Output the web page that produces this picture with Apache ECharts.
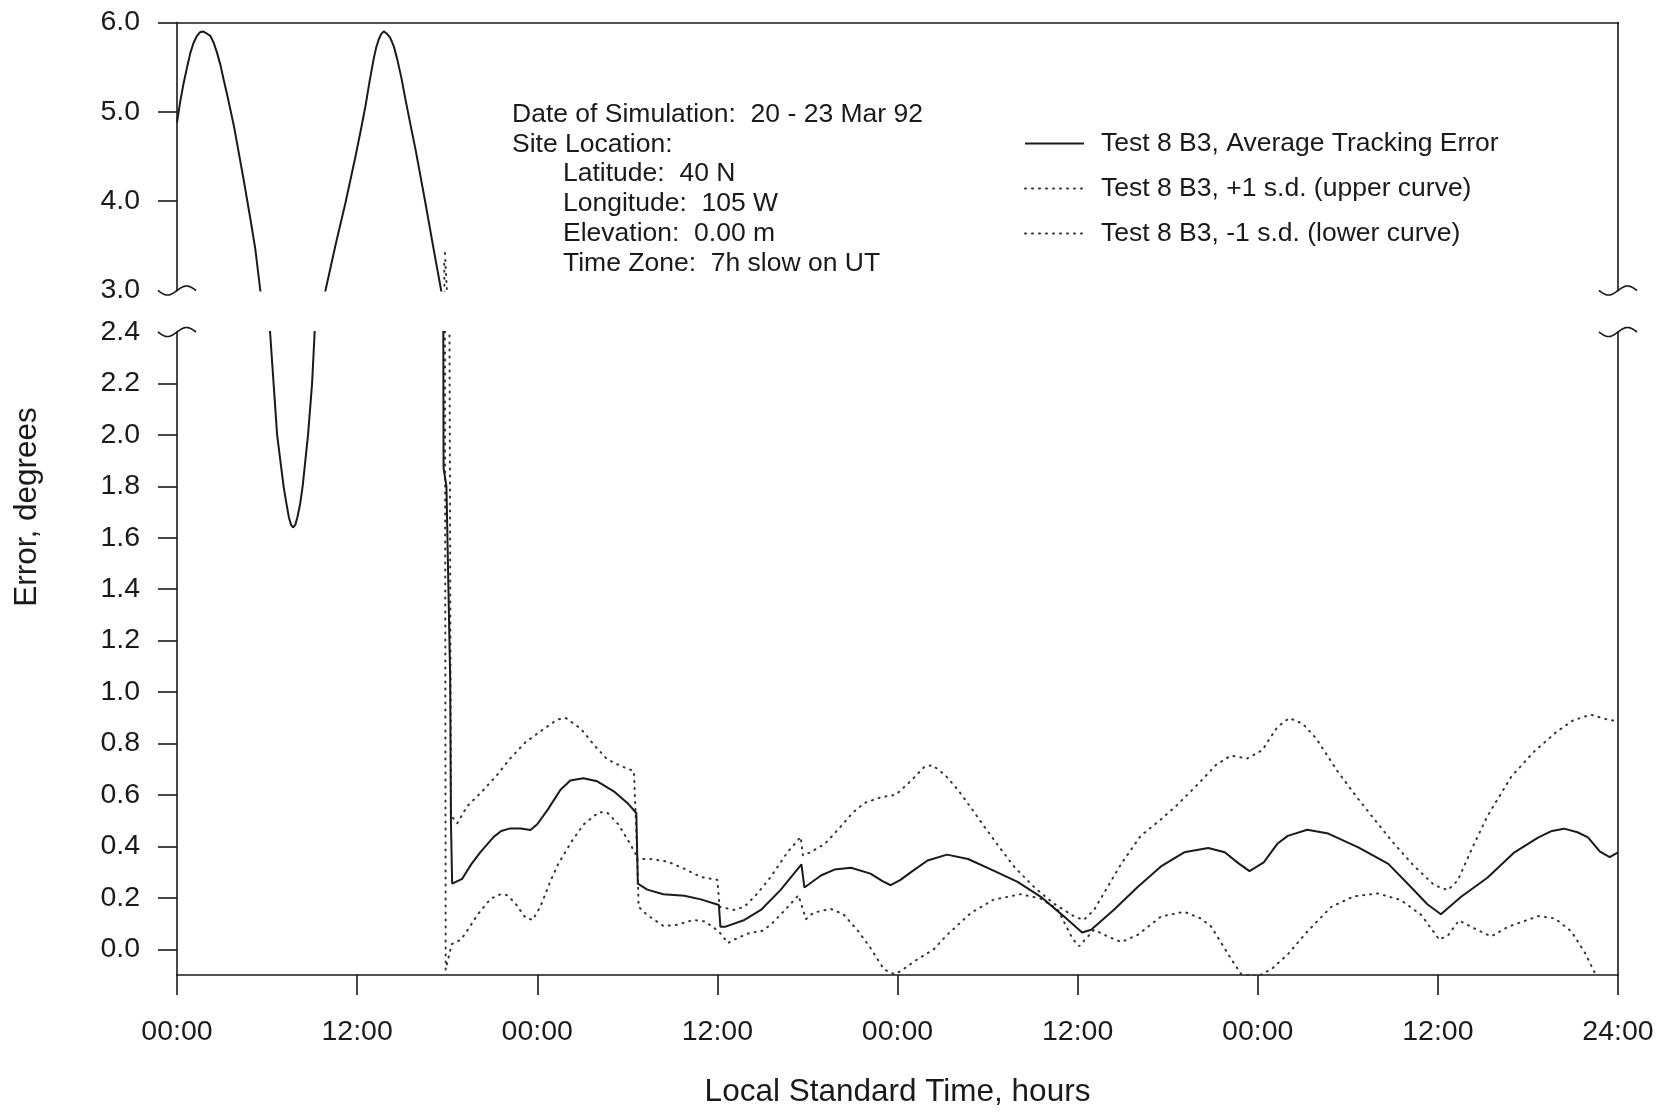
<!DOCTYPE html>
<html><head><meta charset="utf-8">
<script src="https://cdn.jsdelivr.net/npm/echarts@6.0.0/dist/echarts.min.js"></script>
<style>html,body{margin:0;padding:0;background:#fff;}#c{width:1679px;height:1113px;}</style>
</head><body><div id="c"></div>
<script>
// ---------------- data ----------------
const seriesNames = [
  'Test 8 B3, Average Tracking Error',
  'Test 8 B3, +1 s.d. (upper curve)',
  'Test 8 B3, -1 s.d. (lower curve)'
];
const xTickLabels = ['00:00','12:00','00:00','12:00','00:00','12:00','00:00','12:00','24:00'];
const upperYLabels = [3.0, 4.0, 5.0, 6.0];
const lowerYLabels = [0.0, 0.2, 0.4, 0.6, 0.8, 1.0, 1.2, 1.4, 1.6, 1.8, 2.0, 2.2, 2.4];
const infoLines = [
  'Date of Simulation:  20 - 23 Mar 92',
  'Site Location:',
  'Latitude:  40 N',
  'Longitude:  105 W',
  'Elevation:  0.00 m',
  'Time Zone:  7h slow on UT'
];
// [hour, error in degrees]
const meanData = [
  [0,4.88],[0.22,5.12],[0.44,5.32],[0.67,5.50],[0.89,5.66],[1.1,5.77],[1.33,5.85],[1.53,5.89],[1.73,5.90],
  [1.95,5.88],[2.22,5.85],[2.45,5.77],[2.67,5.66],[2.9,5.52],[3.11,5.36],[3.33,5.2],[3.55,5.03],[3.78,4.85],
  [4.0,4.65],[4.44,4.24],[4.89,3.80],[5.22,3.46],[5.55,3.0],[6.2,2.4],[6.67,2.0],
  [7.1,1.8],[7.3,1.73],[7.45,1.68],[7.6,1.65],[7.73,1.64],[7.88,1.65],[8.02,1.68],[8.2,1.73],[8.37,1.8],
  [8.73,2.0],[9.0,2.2],[9.17,2.4],
  [9.89,3.0],[10.55,3.5],[11.22,3.98],[11.89,4.5],[12.25,4.8],[12.55,5.06],[12.85,5.36],[13.1,5.59],
  [13.27,5.72],[13.44,5.81],[13.6,5.87],[13.77,5.90],[13.95,5.88],[14.2,5.83],[14.45,5.73],[14.67,5.59],
  [14.95,5.38],[15.22,5.14],[15.55,4.86],[15.89,4.58],[16.55,3.98],[17.1,3.46],[17.6,3.0],[17.74,2.45],
  [17.76,1.87],[17.95,1.8],[18.2,1.05],[18.25,0.5],[18.33,0.255],[19.0,0.274],[19.6,0.33],[20.2,0.377],
  [21.1,0.437],[21.6,0.46],[22.2,0.47],[22.9,0.47],[23.55,0.464],[24.0,0.486],[24.7,0.543],[25.55,0.62],
  [26.2,0.656],[27.07,0.665],[28.0,0.653],[29.1,0.614],[30.0,0.569],[30.6,0.53],[30.7,0.255],[31.33,0.232],
  [32.4,0.214],[33.8,0.208],[34.9,0.194],[36.1,0.172],[36.2,0.088],[36.55,0.088],[37.8,0.114],[38.9,0.153],
  [40.2,0.23],[41.6,0.33],[41.8,0.24],[42.9,0.287],[43.8,0.31],[44.9,0.317],[46.2,0.294],[47.0,0.265],
  [47.55,0.249],[48.2,0.27],[48.9,0.30],[50.0,0.345],[51.3,0.368],[52.7,0.351],[54.4,0.306],[56.0,0.262],
  [57.55,0.204],[59.1,0.127],[60.3,0.065],[60.9,0.076],[62.4,0.153],[64.0,0.242],[65.55,0.322],[67.1,0.377],
  [68.7,0.394],[69.8,0.377],[70.7,0.335],[71.45,0.304],[72.4,0.338],[73.3,0.41],[74.0,0.441],[75.3,0.465],
  [76.7,0.45],[78.7,0.396],[80.7,0.332],[82.2,0.242],[83.3,0.175],[84.2,0.136],[85.55,0.204],[87.3,0.278],
  [89.1,0.377],[90.7,0.435],[91.6,0.46],[92.4,0.469],[93.3,0.455],[94.0,0.435],[94.8,0.38],[95.45,0.358],[96.0,0.377]
];
const plusSdData = [
  [17.85,3.42],[18.15,2.45],[18.2,1.5],[18.25,0.52],[18.67,0.49],[19.33,0.556],[20.33,0.614],[21.33,0.678],
  [22.2,0.742],[23.2,0.804],[24.2,0.847],[25.33,0.893],[25.9,0.899],[26.9,0.858],[27.8,0.793],[28.67,0.738],
  [29.67,0.71],[30.44,0.693],[30.67,0.351],[31.55,0.351],[32.67,0.341],[33.8,0.313],[34.9,0.281],[36.0,0.27],
  [36.15,0.165],[37.1,0.153],[37.8,0.165],[38.67,0.217],[39.55,0.281],[40.67,0.377],[41.55,0.437],[41.7,0.365],
  [42.2,0.377],[43.2,0.412],[44.2,0.476],[45.0,0.53],[45.8,0.569],[46.9,0.591],[47.9,0.601],[48.9,0.655],
  [49.8,0.71],[50.33,0.716],[51.2,0.676],[52.1,0.614],[52.9,0.55],[53.67,0.486],[54.8,0.396],[55.8,0.319],
  [57.1,0.242],[58.4,0.178],[59.8,0.127],[60.4,0.114],[61.1,0.153],[61.8,0.223],[62.9,0.332],[64.2,0.441],
  [65.55,0.505],[66.67,0.563],[68.2,0.653],[69.2,0.716],[70.2,0.753],[71.3,0.742],[72.3,0.774],[73.3,0.864],
  [74.1,0.899],[75.0,0.877],[75.9,0.819],[77.33,0.691],[78.55,0.595],[79.77,0.505],[81.1,0.409],[82.44,0.322],
  [83.77,0.249],[84.67,0.23],[85.33,0.268],[86.2,0.383],[87.3,0.518],[88.9,0.672],[90.4,0.768],[91.9,0.845],
  [93.0,0.89],[94.2,0.912],[95.1,0.896],[96.0,0.886]
];
const minusSdData = [
  [17.8,3.3],[17.85,2.45],[17.9,-0.08],[18.3,0.02],[18.9,0.037],[19.3,0.069],[20.0,0.133],[20.9,0.197],
  [21.55,0.214],[22.0,0.21],[22.55,0.178],[23.2,0.124],[23.7,0.114],[24.2,0.165],[24.9,0.268],[25.4,0.332],
  [26.3,0.42],[27.1,0.486],[28.1,0.533],[28.67,0.531],[29.4,0.486],[30.2,0.409],[30.67,0.358],[30.75,0.165],
  [31.33,0.133],[32.4,0.091],[33.3,0.095],[34.4,0.114],[35.2,0.108],[36.1,0.069],[36.7,0.024],[37.3,0.043],
  [38.2,0.065],[38.9,0.069],[39.55,0.095],[40.4,0.146],[41.4,0.21],[41.9,0.117],[42.4,0.142],[43.55,0.157],
  [44.4,0.136],[45.4,0.069],[46.2,0.005],[47.1,-0.078],[47.8,-0.097],[48.2,-0.085],[49.3,-0.04],[50.4,-0.001],
  [51.3,0.056],[52.9,0.142],[54.4,0.193],[56.2,0.214],[57.55,0.197],[58.67,0.155],[59.67,0.04],[60.1,0.012],
  [61.1,0.076],[62.0,0.05],[62.9,0.028],[64.0,0.056],[65.55,0.127],[67.1,0.146],[68.2,0.12],[68.9,0.088],
  [70.2,-0.035],[70.9,-0.097],[72.0,-0.105],[72.9,-0.078],[74.0,-0.02],[75.3,0.069],[76.9,0.165],[78.4,0.206],
  [80.0,0.217],[81.55,0.191],[82.9,0.133],[84.1,0.037],[84.7,0.056],[85.4,0.112],[86.4,0.082],[87.55,0.05],
  [88.7,0.088],[90.7,0.129],[91.8,0.12],[92.9,0.069],[93.8,-0.014],[94.5,-0.097],[95.2,-0.2],[96.0,-0.25]
];

// ---------------- chart ----------------
const FONT = "'Liberation Sans', Arial, sans-serif";
const INK = '#1a1a1a';
const chart = echarts.init(document.getElementById('c'), null, {renderer: 'canvas'});

const solidStyle = {color: INK, width: 2, type: 'solid'};
const dotStyle = {color: '#333', width: 2, type: [1, 6], cap: 'round'};
const datasets = [meanData, plusSdData, minusSdData];
const styles = [solidStyle, dotStyle, dotStyle];

const series = [];
[0, 1].forEach(function (g) {
  datasets.forEach(function (d, i) {
    series.push({
      name: seriesNames[i], type: 'line', data: d,
      xAxisIndex: g, yAxisIndex: g === 0 ? 0 : 2,
      showSymbol: false, symbol: 'none', clip: true,
      lineStyle: styles[i], itemStyle: {color: styles[i].color},
      z: i === 0 ? 3 : 2, silent: true
    });
  });
});

const axisLineStyle = {color: INK, width: 1.6};
const labelStyle = {color: INK, fontSize: 28.5, fontFamily: FONT};

function plainAxis(extra) {
  return Object.assign({
    type: 'value', splitLine: {show: false},
    axisLine: {show: true, onZero: false, lineStyle: axisLineStyle},
    axisTick: {show: false}, axisLabel: {show: false}
  }, extra);
}

const option = {
  animation: false,
  backgroundColor: '#fff',
  grid: [
    {left: 177, right: 61, top: 22.5, height: 268},
    {left: 177, right: 61, top: 332, height: 649}
  ],
  xAxis: [
    plainAxis({gridIndex: 0, min: 0, max: 96, interval: 12, position: 'top'}),
    {
      type: 'value', gridIndex: 1, min: 0, max: 96, interval: 12, position: 'bottom',
      splitLine: {show: false},
      axisLine: {show: true, onZero: false, lineStyle: axisLineStyle},
      axisTick: {show: true, inside: false, length: 20, lineStyle: axisLineStyle},
      axisLabel: {
        show: true, margin: 43, color: INK, fontSize: 28.5, fontFamily: FONT,
        formatter: function (v) { return xTickLabels[Math.round(v / 12)]; }
      },
      name: 'Local Standard Time, hours', nameLocation: 'middle', nameGap: 101,
      nameTextStyle: {color: INK, fontSize: 31.5, fontFamily: FONT}
    }
  ],
  yAxis: [
    {
      type: 'value', gridIndex: 0, min: 3, max: 6, position: 'left',
      splitLine: {show: false},
      axisLine: {show: true, onZero: false, lineStyle: axisLineStyle},
      axisTick: {show: true, length: 19, lineStyle: axisLineStyle,
        customValues: upperYLabels.slice(1)},
      axisLabel: Object.assign({show: true, margin: 37, customValues: upperYLabels,
        formatter: function (v) { return v.toFixed(1); }}, labelStyle)
    },
    plainAxis({gridIndex: 0, min: 3, max: 6, position: 'right'}),
    {
      type: 'value', gridIndex: 1, min: -0.1, max: 2.4, position: 'left',
      splitLine: {show: false},
      axisLine: {show: true, onZero: false, lineStyle: axisLineStyle},
      axisTick: {show: true, length: 19, lineStyle: axisLineStyle,
        customValues: lowerYLabels.slice(0, -1)},
      axisLabel: Object.assign({show: true, margin: 37, customValues: lowerYLabels,
        formatter: function (v) { return v.toFixed(1); }}, labelStyle)
    },
    plainAxis({gridIndex: 1, min: -0.1, max: 2.4, position: 'right'})
  ],
  legend: {
    data: seriesNames, orient: 'vertical', left: 1019, top: 125,
    itemWidth: 59, itemHeight: 14, itemGap: 18,
    itemStyle: {color: 'rgba(0,0,0,0)', borderWidth: 0, opacity: 0},
    textStyle: {color: INK, fontSize: 26.5, fontFamily: FONT, lineHeight: 26, padding: [0, 0, 0, 12]},
    selectedMode: false
  },
  series: series
};
chart.setOption(option);

// ---------- decorations: axis-break symbols, info text, y-axis title ----------
function tilde(cx, cy) {
  const pts = [];
  for (let dx = -19; dx <= 19; dx += 1) {
    pts.push([cx + dx, cy - 4.5 * Math.sin(Math.PI * dx / 19)]);
  }
  return {type: 'polyline', shape: {points: pts}, style: {stroke: INK, lineWidth: 1.6, fill: null}, z: 10};
}
const pUL = chart.convertToPixel({xAxisIndex: 0, yAxisIndex: 0}, [0, 3]);
const pUR = chart.convertToPixel({xAxisIndex: 0, yAxisIndex: 0}, [96, 3]);
const pLL = chart.convertToPixel({xAxisIndex: 1, yAxisIndex: 2}, [0, 2.4]);
const pLR = chart.convertToPixel({xAxisIndex: 1, yAxisIndex: 2}, [96, 2.4]);

const graphics = [tilde(pUL[0], pUL[1]), tilde(pUR[0], pUR[1]), tilde(pLL[0], pLL[1]), tilde(pLR[0], pLR[1])];
const infoLeft = [512, 512, 563, 563, 563, 563];
infoLines.forEach(function (t, i) {
  graphics.push({
    type: 'text', x: infoLeft[i], y: 114.5 + i * 29.8,
    style: {text: t, fill: INK, fontSize: 26.5, fontFamily: FONT, align: 'left', verticalAlign: 'middle'}
  });
});
graphics.push({
  type: 'text', x: 27, y: 507, rotation: Math.PI / 2,
  style: {text: 'Error, degrees', fill: INK, fontSize: 31.5, fontFamily: FONT, align: 'center', verticalAlign: 'middle'}
});
chart.setOption({graphic: graphics});
</script>
</body></html>
